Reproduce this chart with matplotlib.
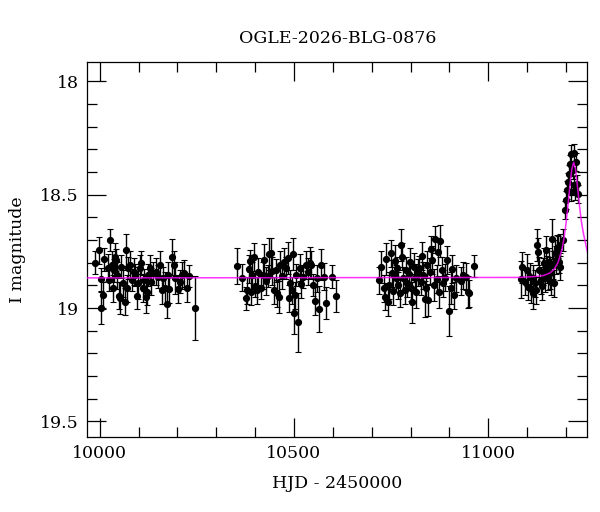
"""Light curve of OGLE-2026-BLG-0876 with the microlensing model."""
import matplotlib
matplotlib.use("Agg")
import matplotlib.pyplot as plt
from matplotlib.ticker import MultipleLocator

plt.rcParams["font.family"] = ["DejaVu Serif"]

# season 1
s1_t = [9987, 9997, 10002, 10004, 10009, 10012, 10020, 10024, 10027, 10031, 10033, 10036, 10039, 10043, 10045,
        10050, 10053, 10056, 10060, 10065, 10068, 10070, 10074, 10079, 10084, 10089, 10092, 10096, 10099, 10103,
        10107, 10111, 10115, 10118, 10121, 10125, 10130, 10133, 10138, 10144, 10149, 10156, 10159, 10162, 10169,
        10172, 10176, 10179, 10185, 10190, 10195, 10202, 10207, 10212, 10217, 10224, 10231, 10246]
s1_m = [18.80, 18.745, 18.874, 19.00, 18.943, 18.785, 18.822, 18.877, 18.70, 18.808, 18.913, 18.833, 18.774, 18.788,
        18.855, 18.946, 18.957, 18.818, 18.891, 18.972, 18.745, 18.913, 18.824, 18.81, 18.877, 18.84, 18.855, 18.946,
        18.891, 18.824, 18.80, 18.913, 18.877, 18.95, 18.928, 18.855, 18.824, 18.884, 18.847, 18.84, 18.862, 18.808,
        18.921, 18.869, 18.913, 18.984, 18.855, 18.916, 18.774, 18.808, 18.869, 18.916, 18.884, 18.855, 18.847,
        18.913, 18.858, 19.00]
s1_e = [0.05, 0.06, 0.05, 0.07, 0.06, 0.05, 0.06, 0.05, 0.05, 0.06, 0.06, 0.05, 0.06, 0.05, 0.06, 0.06, 0.07, 0.05,
        0.06, 0.06, 0.07, 0.06, 0.05, 0.06, 0.05, 0.06, 0.05, 0.06, 0.07, 0.06, 0.05, 0.06, 0.05, 0.07, 0.06, 0.05,
        0.06, 0.06, 0.05, 0.06, 0.05, 0.06, 0.06, 0.05, 0.07, 0.06, 0.06, 0.06, 0.08, 0.06, 0.07, 0.06, 0.05, 0.06,
        0.06, 0.06, 0.05, 0.14]

# season 2
s2_t = [10354, 10366, 10376, 10379, 10383, 10386, 10390, 10393, 10397, 10400, 10404, 10408, 10414, 10419, 10424,
        10429, 10432, 10436, 10440, 10444, 10448, 10453, 10456, 10462, 10465, 10470, 10475, 10480, 10484, 10487,
        10490, 10494, 10497, 10499, 10503, 10506, 10511, 10516, 10519, 10524, 10530, 10535, 10540, 10545, 10550,
        10554, 10559, 10565, 10569, 10578, 10583, 10598, 10609]
s2_m = [18.814, 18.866, 18.957, 18.921, 18.828, 18.793, 18.928, 18.855, 18.775, 18.902, 18.921, 18.84, 18.91,
        18.855, 18.788, 18.881, 18.858, 18.763, 18.759, 18.837, 18.921, 18.833, 18.935, 18.95, 18.81, 18.858,
        18.796, 18.824, 18.778, 18.957, 18.891, 18.921, 18.763, 19.023, 18.943, 18.855, 19.063, 18.822, 18.896,
        18.862, 18.81, 18.84, 18.80, 18.808, 18.899, 18.969, 18.869, 19.004, 18.808, 18.862, 18.977, 18.862, 18.946]
s2_e = [0.08, 0.06, 0.05, 0.06, 0.06, 0.05, 0.06, 0.06, 0.06, 0.05, 0.06, 0.06, 0.05, 0.06, 0.07, 0.06, 0.05, 0.07,
        0.07, 0.06, 0.06, 0.05, 0.06, 0.07, 0.06, 0.06, 0.06, 0.05, 0.07, 0.06, 0.06, 0.06, 0.07, 0.09, 0.06, 0.05,
        0.13, 0.06, 0.06, 0.05, 0.06, 0.06, 0.07, 0.06, 0.05, 0.06, 0.06, 0.10, 0.07, 0.06, 0.07, 0.05, 0.07]

# season 3
s3_t = [10718, 10723, 10732, 10735, 10738, 10742, 10745, 10749, 10752, 10756, 10759, 10762, 10766, 10769, 10772,
        10776, 10778, 10781, 10785, 10788, 10792, 10795, 10798, 10802, 10805, 10808, 10812, 10815, 10819, 10822,
        10826, 10829, 10832, 10836, 10839, 10843, 10846, 10849, 10853, 10856, 10860, 10863, 10867, 10870, 10873,
        10877, 10880, 10884, 10889, 10894, 10899, 10904, 10908, 10913, 10918, 10931, 10936, 10942, 10947, 10950,
        10964]
s3_m = [18.877, 18.818, 18.913, 18.95, 18.784, 18.975, 18.899, 18.759, 18.847, 18.925, 18.793, 18.869, 18.824,
        18.899, 18.935, 18.722, 18.774, 18.869, 18.921, 18.833, 18.891, 18.852, 18.796, 18.91, 18.975, 18.818,
        18.867, 18.928, 18.843, 18.822, 18.884, 18.77, 18.855, 18.96, 18.91, 18.808, 18.965, 18.84, 18.74, 18.788,
        18.899, 18.696, 18.872, 18.752, 18.928, 18.705, 18.833, 18.891, 18.867, 18.788, 19.013, 18.913, 18.828,
        18.943, 18.869, 18.881, 18.855, 18.862, 18.928, 18.935, 18.814]
s3_e = [0.06, 0.07, 0.06, 0.06, 0.07, 0.06, 0.06, 0.06, 0.06, 0.06, 0.07, 0.06, 0.05, 0.06, 0.06, 0.07, 0.06, 0.05,
        0.06, 0.06, 0.06, 0.05, 0.06, 0.06, 0.09, 0.06, 0.06, 0.07, 0.06, 0.05, 0.06, 0.06, 0.06, 0.08, 0.06, 0.06,
        0.07, 0.06, 0.06, 0.06, 0.07, 0.06, 0.06, 0.06, 0.07, 0.07, 0.06, 0.06, 0.06, 0.06, 0.11, 0.07, 0.06, 0.06,
        0.06, 0.06, 0.06, 0.06, 0.07, 0.06, 0.05]

# season 4 (event)
s4_t = [11084, 11088, 11094, 11099, 11103, 11107, 11111, 11114, 11116, 11120, 11124, 11126, 11129, 11132, 11135,
        11138, 11141, 11144, 11146, 11149, 11151, 11154, 11156, 11159, 11162, 11164, 11167, 11169, 11172, 11174,
        11177, 11179, 11182, 11185, 11186, 11193, 11197, 11200, 11204, 11206, 11208, 11210, 11212, 11214, 11217,
        11220, 11221, 11223, 11226, 11228, 11231]
s4_m = [18.874, 18.821, 18.884, 18.833, 18.906, 18.862, 18.918, 18.933, 18.869, 18.891, 18.921, 18.722, 18.752,
        18.833, 18.877, 18.903, 18.84, 18.803, 18.869, 18.744, 18.829, 18.862, 18.796, 18.847, 18.884, 18.695,
        18.81, 18.891, 18.759, 18.788, 18.737, 18.73, 18.796, 18.818, 18.722, 18.70, 18.568, 18.524, 18.48, 18.444,
        18.407, 18.363, 18.322, 18.488, 18.392, 18.458, 18.316, 18.483, 18.356, 18.451, 18.495]
s4_e = [0.08, 0.07, 0.06, 0.07, 0.06, 0.06, 0.06, 0.07, 0.06, 0.06, 0.06, 0.07, 0.06, 0.06, 0.06, 0.06, 0.06, 0.07,
        0.06, 0.06, 0.06, 0.06, 0.06, 0.07, 0.06, 0.09, 0.06, 0.06, 0.06, 0.06, 0.06, 0.05, 0.05, 0.06, 0.05, 0.05,
        0.04, 0.04, 0.04, 0.04, 0.04, 0.04, 0.04, 0.04, 0.04, 0.04, 0.04, 0.04, 0.04, 0.04, 0.04]

# model curve
model_t = [9968, 11080, 11120, 11140, 11150, 11160, 11170, 11180, 11190, 11195, 11200, 11205, 11210, 11215, 11220,
           11225, 11230, 11235, 11240, 11245, 11250, 11255]
model_m = [18.867, 18.865, 18.861, 18.857, 18.852, 18.844, 18.828, 18.798, 18.739, 18.693, 18.631, 18.552, 18.464,
           18.389, 18.357, 18.389, 18.468, 18.55, 18.62, 18.67, 18.71, 18.75]

hjd = s1_t + s2_t + s3_t + s4_t
mag = s1_m + s2_m + s3_m + s4_m
err = s1_e + s2_e + s3_e + s4_e

fig = plt.figure(figsize=(6, 5.12), dpi=100)
ax = fig.add_axes([0.1455, 0.1471, 0.8333, 0.7318])

ax.errorbar(hjd, mag, yerr=err, fmt="o", color="black", ms=4.2, elinewidth=1.0,
            capsize=2.4, capthick=0.8, zorder=2)
ax.plot(model_t, model_m, color="#ff00ff", lw=1.1, alpha=0.8, zorder=3)

ax.set_xlim(9968, 11255)
ax.set_ylim(19.568, 17.914)

ax.xaxis.set_major_locator(MultipleLocator(500))
ax.xaxis.set_minor_locator(MultipleLocator(100))
ax.yaxis.set_major_locator(MultipleLocator(0.5))
ax.yaxis.set_minor_locator(MultipleLocator(0.1))
ax.set_yticks([18, 18.5, 19, 19.5], ["18", "18.5", "19", "19.5"])

ax.tick_params(which="both", direction="in", top=True, right=True, width=0.9, labelsize=12.5)
ax.tick_params(which="major", length=13.5, pad=6)
ax.tick_params(which="minor", length=7)
for s in ax.spines.values():
    s.set_linewidth(0.9)

ax.set_xlabel("HJD - 2450000", fontsize=12.5, labelpad=9)
ax.set_ylabel("I magnitude", fontsize=12.5, labelpad=10)
ax.set_title("OGLE-2026-BLG-0876", fontsize=12.5, pad=14)

fig.savefig("out.png", dpi=100)
